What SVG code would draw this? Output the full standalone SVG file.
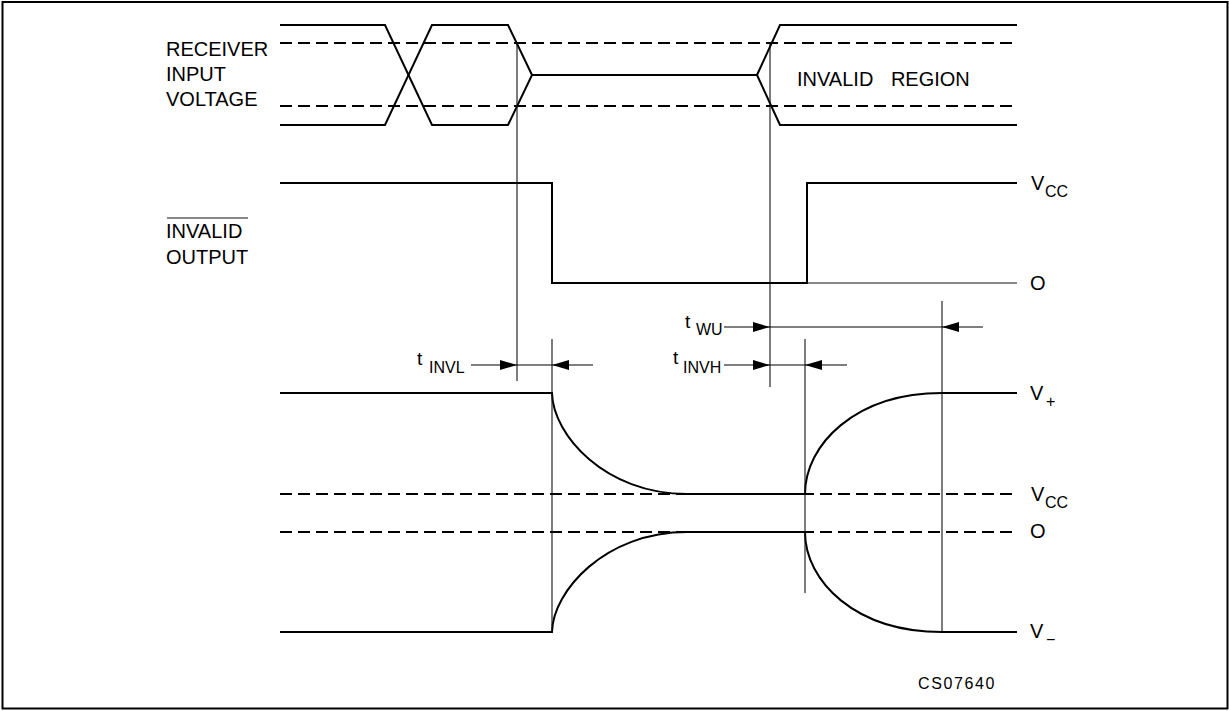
<svg xmlns="http://www.w3.org/2000/svg" width="1229" height="711" viewBox="0 0 1229 711">
<style>
  .bg { fill: #fff; }
  .frame { fill: none; stroke: #000; stroke-width: 2; }
  .sig { fill: none; stroke: #000; stroke-width: 2; stroke-linejoin: miter; }
  .thin { fill: none; stroke: #111; stroke-width: 1.1; }
  .dash { fill: none; stroke: #000; stroke-width: 2; stroke-dasharray: 12 6; }
  .dim { fill: none; stroke: #000; stroke-width: 1.1; }
  text { font-family: "Liberation Sans", Arial, sans-serif; fill: #000; }
  .lbl { font-size: 20px; }
  .val { font-size: 20px; }
  .sub { font-size: 16px; }
  .t { font-size: 19px; }
</style>
<defs>
  <marker id="arr" viewBox="0 0 17 10" refX="17" refY="5" markerWidth="17" markerHeight="10" markerUnits="userSpaceOnUse" orient="auto">
    <path d="M0,0 L17,5 L0,10 Z" fill="#000"/>
  </marker>
</defs>
<rect class="bg" x="0" y="0" width="1229" height="711"/>
<rect class="frame" x="2.5" y="2" width="1225" height="706.5"/>

<g id="receiver-input">
  <path class="dash" d="M280,43 H1017 M280,106 H1017"/>
  <path class="sig" d="M280,25 H385 L432,125 H508 L532,75 H757 L780,25 H1017"/>
  <path class="sig" d="M280,125 H385 L432,25 H508 L532,75 M757,75 L780,125 H1017"/>
  <text class="lbl" x="166" y="56">RECEIVER</text>
  <text class="lbl" x="166" y="81">INPUT</text>
  <text class="lbl" x="166" y="106">VOLTAGE</text>
  <text class="lbl" x="797" y="86" word-spacing="12">INVALID REGION</text>
</g>

<g id="invalid-output">
  <path class="sig" d="M280,183 H552 V283 H807 V183 H1017"/>
  <path class="thin" d="M807,283 H1017"/>
  <line class="thin" x1="167" y1="218" x2="248" y2="218"/>
  <text class="lbl" x="166" y="238">INVALID</text>
  <text class="lbl" x="166" y="264">OUTPUT</text>
  <text class="val" x="1031" y="190">V</text>
  <text class="sub" x="1045" y="197">CC</text>
  <text class="val" x="1030" y="290">O</text>
</g>

<g id="output-voltage">
  <path class="dash" d="M280,494 H1017 M280,532 H1017"/>
  <path class="sig" d="M280,393 H552 C553,435 605,494 687,494 H805 C805,445 855,393 942,393 H1017"/>
  <path class="sig" d="M280,632 H552 C553,591 605,532 687,532 H805 C805,581 855,632 942,632 H1017"/>
  <text class="val" x="1030" y="400">V</text>
  <text class="sub" x="1046" y="407">+</text>
  <text class="val" x="1031" y="501">V</text>
  <text class="sub" x="1045" y="508">CC</text>
  <text class="val" x="1030" y="538">O</text>
  <text class="val" x="1030" y="638">V</text>
  <text class="sub" x="1046" y="645">−</text>
</g>

<g id="connectors">
  <line class="thin" x1="517" y1="43" x2="517" y2="381"/>
  <line class="thin" x1="552" y1="339" x2="552" y2="632"/>
  <line class="thin" x1="770" y1="43" x2="770" y2="387"/>
  <line class="thin" x1="805" y1="339" x2="805" y2="593"/>
  <line class="thin" x1="942" y1="301" x2="942" y2="632"/>

  <line class="dim" x1="471" y1="365" x2="517" y2="365" marker-end="url(#arr)"/>
  <line class="dim" x1="517" y1="365" x2="552" y2="365"/>
  <line class="dim" x1="593" y1="365" x2="552" y2="365" marker-end="url(#arr)"/>

  <line class="dim" x1="724" y1="327" x2="770" y2="327" marker-end="url(#arr)"/>
  <line class="dim" x1="770" y1="327" x2="942" y2="327"/>
  <line class="dim" x1="983" y1="327" x2="942" y2="327" marker-end="url(#arr)"/>

  <line class="dim" x1="724" y1="365" x2="770" y2="365" marker-end="url(#arr)"/>
  <line class="dim" x1="770" y1="365" x2="805" y2="365"/>
  <line class="dim" x1="847" y1="365" x2="805" y2="365" marker-end="url(#arr)"/>
</g>

<g id="timing-labels">
  <text class="t" x="417" y="365">t</text>
  <text class="sub" x="429" y="373">INVL</text>
  <text class="t" x="685" y="328">t</text>
  <text class="sub" x="696" y="335">WU</text>
  <text class="t" x="673" y="364">t</text>
  <text class="sub" x="683" y="373">INVH</text>
</g>

<text id="ref-code" x="918" y="689" font-size="16" letter-spacing="1.6">CS07640</text>
</svg>
